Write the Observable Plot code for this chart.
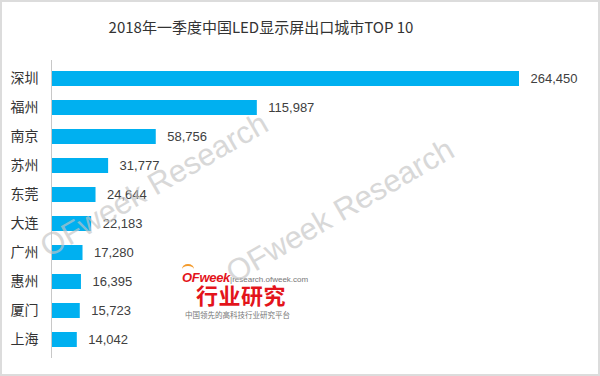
<!DOCTYPE html>
<html>
<head>
<meta charset="utf-8">
<script src="https://cdn.jsdelivr.net/npm/d3@7"></script>
<script src="https://cdn.jsdelivr.net/npm/@observablehq/plot@0.6"></script>
<style>
  html, body { margin: 0; padding: 0; background: #fff; }
  #wrap { position: relative; width: 600px; height: 376px; overflow: hidden; background: #fff; }
  #title { height: 31px; padding-top: 17px; width: 522px; text-align: center;
           font: 15px/20px "Noto Sans CJK SC", sans-serif; color: #333; white-space: nowrap; }
  #chart svg { display: block; }
  .wm { position: absolute; height: 0; width: 0; z-index: 3; pointer-events: none; }
  .wm span { position: absolute; left: 0; bottom: -7px; white-space: nowrap; transform-origin: 0 100%;
             transform: rotate(-30deg); font: 31px "Liberation Sans", sans-serif; color: #c4c4c4; opacity: 0.65; }
  #logo { position: absolute; left: 180px; top: 264px; width: 125px; height: 60px; z-index: 2; }
  #logo .l1 { position: absolute; left: 2px; top: 4px; white-space: nowrap; }
  #logo .of { font: italic bold 13px "Liberation Sans", sans-serif; color: #e3141b; letter-spacing: -0.3px; }
  #logo .url { font: 8px "Liberation Sans", sans-serif; color: #777; }
  #logo .arc { position: absolute; left: 2px; top: 0px; width: 12px; height: 8px; border-top: 2px solid #f39a2b; border-radius: 50% 50% 0 0; }
  #logo .l2 { position: absolute; left: 16px; top: 17px; font: bold 22px/26px "Noto Sans CJK SC", sans-serif; color: #e3141b; letter-spacing: 0.5px; white-space: nowrap; }
  #logo .l3 { position: absolute; left: 5px; top: 46px; font: 7.5px/9px "Noto Sans CJK SC", sans-serif; color: #777; white-space: nowrap; }
  #frame { position: absolute; left: 0; top: 0; width: 596px; height: 372px; border: 2px solid #dcdcdc; z-index: 4; pointer-events: none; }
</style>
</head>
<body>
<div id="wrap">
  <div id="title"></div>
  <div id="chart"></div>
  <div id="logo">
    <div class="arc"></div>
    <div class="l1"><span class="of">OFweek</span><span class="url">|research.ofweek.com</span></div>
    <div class="l2">行业研究</div>
    <div class="l3">中国领先的高科技行业研究平台</div>
  </div>
  <div class="wm" style="left:52px; top:258px"><span>OFweek Research</span></div>
  <div class="wm" style="left:238px; top:284px"><span>OFweek Research</span></div>
  <div id="frame"></div>
</div>
<script>
const titleText = "2018年一季度中国LED显示屏出口城市TOP 10";
const cities = ["深圳", "福州", "南京", "苏州", "东莞", "大连", "广州", "惠州", "厦门", "上海"];
const values = [264450, 115987, 58756, 31777, 24644, 22183, 17280, 16395, 15723, 14042];

document.getElementById("title").textContent = titleText;

const data = cities.map((c, i) => ({city: c, value: values[i]}));
const fmt = d3.format(",");

const chart = Plot.plot({
  width: 600,
  height: 328,
  marginTop: 12,
  marginBottom: 18,
  marginLeft: 52,
  marginRight: 81,
  style: {background: "transparent", fontSize: "14px", fontFamily: "'Noto Sans CJK SC', sans-serif", color: "#333"},
  x: {domain: [0, d3.max(values)], axis: null},
  y: {domain: cities, paddingInner: 0.5, paddingOuter: 0.25, tickSize: 0, tickPadding: 14, label: null},
  marks: [
    Plot.barX(data, {x: "value", y: "city", fill: "#00b0f0"}),
    Plot.ruleX([0], {stroke: "#c8c8c8", strokeWidth: 1, dx: -1}),
    Plot.text(data, {x: "value", y: "city", text: d => fmt(d.value), dx: 11, textAnchor: "start",
                     fill: "#404040", fontSize: 13, fontFamily: "'Liberation Sans', sans-serif"})
  ]
});
document.getElementById("chart").appendChild(chart);
</script>
</body>
</html>
